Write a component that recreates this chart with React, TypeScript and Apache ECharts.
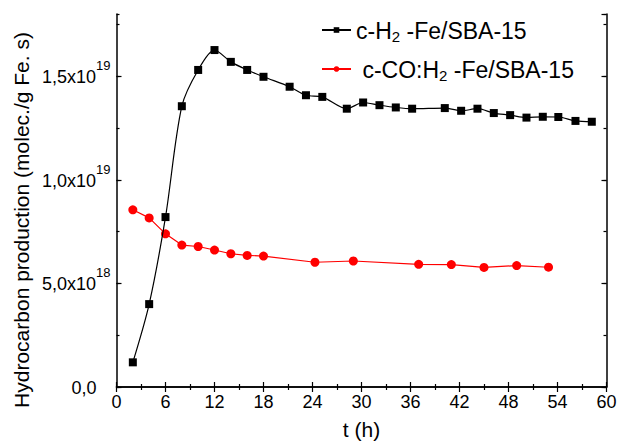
import React, { useEffect, useRef } from "react";
import * as echarts from "echarts";

// Series c-H2-Fe/SBA-15
const tH2 = [2, 4, 6, 8, 10, 12, 14, 16, 18, 21.2, 23.2, 25.2, 28.2, 30.2, 32.2, 34.2, 36.2, 40.2, 42.2, 44.2, 46.2, 48.2, 50.2, 52.2, 54.1, 56.2, 58.2];
const vH2 = [1.19e18, 4.0e18, 8.2e18, 13.55e18, 15.3e18, 16.26e18, 15.69e18, 15.3e18, 14.97e18, 14.49e18, 14.08e18, 14.0e18, 13.43e18, 13.73e18, 13.6e18, 13.49e18, 13.43e18, 13.46e18, 13.33e18, 13.43e18, 13.22e18, 13.12e18, 13.0e18, 13.04e18, 13.03e18, 12.84e18, 12.8e18];

// Series c-CO:H2-Fe/SBA-15
const tCO = [2, 4, 6, 8, 10, 12, 14, 16, 18, 24.3, 29, 37, 41, 45, 49, 52.9];
const vCO = [8.55e18, 8.16e18, 7.39e18, 6.85e18, 6.78e18, 6.61e18, 6.43e18, 6.35e18, 6.32e18, 6.02e18, 6.08e18, 5.92e18, 5.91e18, 5.77e18, 5.86e18, 5.78e18];

const seriesNames = ["c-H2-Fe/SBA-15", "c-CO:H2-Fe/SBA-15"];
const xTitle = "t (h)";
const yTitle = "Hydrocarbon production (molec./g Fe. s)";

const FONT = "Liberation Sans, Arial, sans-serif";

function yLabel(v: number): string {
  if (v === 0) return "{b|0,0}{p| }";
  const e = Math.floor(Math.log10(v) + 1e-9);
  const m = (v / Math.pow(10, e)).toFixed(1).replace(".", ",");
  return "{b|" + m + "x10}{s|" + e + "}";
}

function legendLabel(name: string): string {
  const parts = name.split("H2");
  const pre = name === seriesNames[1] ? " " : "";
  return "{a|" + pre + parts[0] + "H}{sub|2}{a| " + parts[1] + "}";
}

export default function App() {
  const ref = useRef<HTMLDivElement>(null);
  useEffect(() => {
    if (!ref.current) return;
    const chart = echarts.init(ref.current, undefined, { renderer: "svg" });
    const axisLine = { show: true, lineStyle: { color: "#000", width: 1.5 } };
    const option: any = {
      animation: false,
      backgroundColor: "#fff",
      grid: { left: 116.5, right: 13.5, top: 14, bottom: 54, containLabel: false },
      legend: {
        orient: "vertical",
        left: 316,
        top: 14,
        itemWidth: 29,
        itemHeight: 7,
        itemGap: 14,
        data: seriesNames,
        formatter: legendLabel,
        textStyle: {
          fontFamily: FONT,
          color: "#000",
          rich: {
            a: { fontFamily: FONT, fontSize: 23, lineHeight: 22, verticalAlign: "top", color: "#000" },
            sub: { fontFamily: FONT, fontSize: 15, lineHeight: 14, padding: [10, 0, 0, 0], verticalAlign: "top", color: "#000" },
          },
        },
      },
      xAxis: [
        {
          type: "value",
          min: 0,
          max: 60,
          interval: 6,
          position: "bottom",
          name: xTitle,
          nameLocation: "middle",
          nameGap: 32,
          nameTextStyle: { fontFamily: FONT, fontSize: 21, color: "#000" },
          axisLine,
          axisTick: { show: true, inside: true, length: 5, lineStyle: { color: "#000", width: 1.2 } },
          minorTick: { show: true, splitNumber: 2, length: 3, lineStyle: { color: "#000", width: 1.2 } },
          axisLabel: { margin: 6, fontFamily: FONT, fontSize: 18, color: "#000" },
          splitLine: { show: false },
        },
        {
          type: "value",
          min: 0,
          max: 60,
          interval: 6,
          position: "top",
          axisLine,
          axisTick: { show: true, inside: true, length: 5, lineStyle: { color: "#000", width: 1.2 } },
          minorTick: { show: true, splitNumber: 2, length: 3, lineStyle: { color: "#000", width: 1.2 } },
          axisLabel: { show: false },
          splitLine: { show: false },
        },
      ],
      yAxis: [
        {
          type: "value",
          min: 0,
          max: 1.8e19,
          interval: 5e18,
          position: "left",
          axisLine,
          axisTick: { show: true, inside: true, length: 5, lineStyle: { color: "#000", width: 1.2 } },
          axisLabel: {
            margin: 6,
            showMaxLabel: false,
            formatter: (v: number) => (v % 5e18 === 0 ? yLabel(v) : ""),
            rich: {
              b: { fontFamily: FONT, fontSize: 18, lineHeight: 20, verticalAlign: "bottom", color: "#000" },
              s: { fontFamily: FONT, fontSize: 13, lineHeight: 13, padding: [0, 0, 14, 0], verticalAlign: "bottom", color: "#000" },
              p: { fontFamily: FONT, fontSize: 13, lineHeight: 13, width: 14, verticalAlign: "bottom" },
            },
          },
          splitLine: { show: false },
        },
        {
          type: "value",
          min: 0,
          max: 1.8e19,
          interval: 2.5e18,
          position: "left",
          axisLine: { show: false },
          axisTick: { show: true, inside: true, length: 3, lineStyle: { color: "#000", width: 1.2 } },
          axisLabel: { show: false },
          splitLine: { show: false },
        },
        {
          type: "value",
          min: 0,
          max: 1.8e19,
          interval: 5e18,
          position: "right",
          axisLine,
          axisTick: { show: true, inside: true, length: 5, lineStyle: { color: "#000", width: 1.2 } },
          axisLabel: { show: false },
          splitLine: { show: false },
        },
        {
          type: "value",
          min: 0,
          max: 1.8e19,
          interval: 2.5e18,
          position: "right",
          axisLine: { show: false },
          axisTick: { show: true, inside: true, length: 3, lineStyle: { color: "#000", width: 1.2 } },
          axisLabel: { show: false },
          splitLine: { show: false },
        },
      ],
      graphic: [
        {
          type: "text",
          x: 21,
          y: 220,
          rotation: Math.PI / 2,
          style: {
            text: yTitle,
            fontFamily: FONT,
            fontSize: 21,
            fill: "#000",
            align: "center",
            verticalAlign: "middle",
          },
        },
      ],
      series: [
        {
          name: seriesNames[0],
          type: "line",
          data: tH2.map((t, i) => [t, vH2[i]]),
          smooth: 0.3,
          symbol: "rect",
          symbolSize: 8,
          itemStyle: { color: "#000" },
          lineStyle: { color: "#000", width: 1.2 },
          z: 3,
        },
        {
          name: seriesNames[1],
          type: "line",
          data: tCO.map((t, i) => [t, vCO[i]]),
          symbol: "circle",
          symbolSize: 9,
          itemStyle: { color: "#ff0000" },
          lineStyle: { color: "#ff0000", width: 1.2 },
          z: 2,
        },
      ],
    };
    chart.setOption(option);
    return () => chart.dispose();
  }, []);
  return <div ref={ref} style={{ width: 620, height: 445, position: "absolute", left: 0, top: 0 }} />;
}
